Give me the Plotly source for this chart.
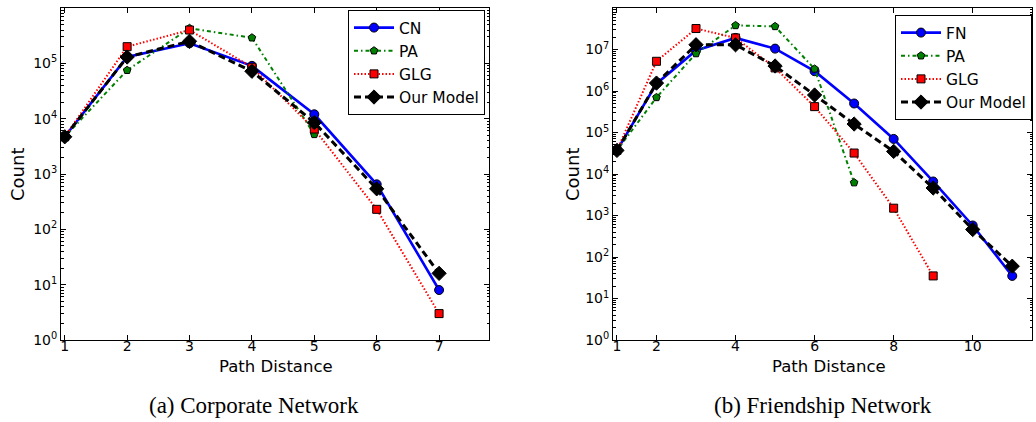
import plotly.graph_objects as go

# ---- data: (a) Corporate Network ----
corp_x = [1, 2, 3, 4, 5, 6, 7]
corp_cn = [4.7e3, 1.3e5, 2.3e5, 9.0e4, 1.2e4, 650, 8]
corp_pa_x = [1, 2, 3, 4, 5]
corp_pa = [4.7e3, 7.5e4, 4.3e5, 2.9e5, 5.2e3]
corp_glg = [4.7e3, 2.0e5, 4.0e5, 8.5e4, 6.5e3, 230, 3]
corp_model = [4.7e3, 1.3e5, 2.5e5, 7.2e4, 8.5e3, 540, 16]

# ---- data: (b) Friendship Network ----
fr_x = [1, 2, 3, 4, 5, 6, 7, 8, 9, 10, 11]
fr_fn = [3.7e4, 1.5e6, 9.5e6, 1.9e7, 1.05e7, 3.0e6, 5.0e5, 7.0e4, 6.6e3, 575, 35]
fr_pa_x = [1, 2, 3, 4, 5, 6, 7]
fr_pa = [3.7e4, 7.0e5, 8.0e6, 3.8e7, 3.6e7, 3.4e6, 6.2e3]
fr_glg_x = [1, 2, 3, 4, 5, 6, 7, 8, 9]
fr_glg = [3.7e4, 5.2e6, 3.2e7, 1.9e7, 3.6e6, 4.2e5, 3.2e4, 1.5e3, 35]
fr_model = [3.7e4, 1.55e6, 1.3e7, 1.3e7, 4.0e6, 8.0e5, 1.6e5, 3.5e4, 4.6e3, 460, 60]

corp_xticks = [1, 2, 3, 4, 5, 6, 7]
fr_xticks = [1, 2, 4, 6, 8, 10]
corp_ytick_exp = [0, 1, 2, 3, 4, 5]
fr_ytick_exp = [0, 1, 2, 3, 4, 5, 6, 7]

BLUE, GREEN, RED = "#0000ff", "#008000", "#ff0000"
FONT = "DejaVu Sans"

fig = go.Figure()


def add_series(x, y, name, color, dash, width, symbol, msize, xa, ya, legend):
    fig.add_trace(go.Scatter(
        x=x, y=y, name=name, mode="lines+markers",
        line=dict(color=color, dash=dash, width=width),
        marker=dict(symbol=symbol, size=msize, color=color,
                    line=dict(color="black", width=1)),
        xaxis=xa, yaxis=ya, legend=legend,
    ))


STY = {
    "blue": (BLUE, "solid", 2.6, "circle", 9),
    "green": (GREEN, "4px,3px,1.5px,3px", 2, "pentagon", 8),
    "red": (RED, "1.5px,2px", 2, "square", 8),
    "black": ("black", "7px,4px", 3, "diamond", 11),
}

add_series(corp_x, corp_cn, "CN", *STY["blue"], "x", "y", "legend")
add_series(corp_pa_x, corp_pa, "PA", *STY["green"], "x", "y", "legend")
add_series(corp_x, corp_glg, "GLG", *STY["red"], "x", "y", "legend")
add_series(corp_x, corp_model, "Our Model", *STY["black"], "x", "y", "legend")

add_series(fr_x, fr_fn, "FN", *STY["blue"], "x2", "y2", "legend2")
add_series(fr_pa_x, fr_pa, "PA", *STY["green"], "x2", "y2", "legend2")
add_series(fr_glg_x, fr_glg, "GLG", *STY["red"], "x2", "y2", "legend2")
add_series(fr_x, fr_model, "Our Model", *STY["black"], "x2", "y2", "legend2")

W, H = 1036, 422
ytop = 1 - 8 / H
ybot = 1 - 340 / H

axis_common = dict(
    showline=True, linecolor="black", linewidth=1, mirror="allticks",
    ticks="inside", tickcolor="black", ticklen=5, showgrid=False,
    zeroline=False, automargin=False,
    tickfont=dict(family=FONT, size=14, color="black"),
)

fig.update_layout(
    width=W, height=H,
    margin=dict(l=0, r=0, t=0, b=0),
    paper_bgcolor="white", plot_bgcolor="white",
    font=dict(family=FONT, color="black"),
    xaxis=dict(domain=[61 / W, 489 / W], range=[0.94, 7.8],
               tickvals=corp_xticks, anchor="y", ticklabelstandoff=-7,
               **axis_common),
    yaxis=dict(domain=[ybot, ytop], type="log", range=[0, 6],
               tickvals=[10 ** e for e in corp_ytick_exp],
               ticktext=[f"10<sup>{e}</sup>" for e in corp_ytick_exp],
               minor=dict(ticks="inside", ticklen=2.5, dtick="D1", tickcolor="black"),
               anchor="x", **axis_common),
    xaxis2=dict(domain=[613 / W, 1032 / W], range=[0.9, 11.5],
                tickvals=fr_xticks, anchor="y2", ticklabelstandoff=-7,
                **axis_common),
    yaxis2=dict(domain=[ybot, ytop], type="log", range=[0, 8],
                tickvals=[10 ** e for e in fr_ytick_exp],
                ticktext=[f"10<sup>{e}</sup>" for e in fr_ytick_exp],
                minor=dict(ticks="inside", ticklen=2.5, dtick="D1", tickcolor="black"),
                anchor="x2", **axis_common),
    legend=dict(x=348 / W, y=1 - 10 / H, xanchor="left", yanchor="top",
                bgcolor="white", bordercolor="black", borderwidth=1,
                font=dict(family=FONT, size=15.5, color="black"),
                itemwidth=40),
    legend2=dict(x=1032 / W, y=1 - 15 / H, xanchor="right", yanchor="top",
                 bgcolor="white", bordercolor="black", borderwidth=1,
                 font=dict(family=FONT, size=15.5, color="black"),
                 itemwidth=40),
)

ann = []
for xc, txt in [(276, "Path Distance"), (829, "Path Distance")]:
    ann.append(dict(x=xc / W, y=1 - 366 / H, xref="paper", yref="paper",
                    xanchor="center", yanchor="middle",
                    text=txt, showarrow=False,
                    font=dict(family=FONT, size=16.5, color="black")))
for xc in [17, 572]:
    ann.append(dict(x=xc / W, y=1 - 175 / H, xref="paper", yref="paper",
                    xanchor="center", yanchor="middle",
                    text="Count", showarrow=False, textangle=-90,
                    font=dict(family=FONT, size=18, color="black")))
for xc, txt in [(254, "(a) Corporate Network"), (823, "(b) Friendship Network")]:
    ann.append(dict(x=xc / W, y=1 - 405 / H, xref="paper", yref="paper",
                    xanchor="center", yanchor="middle",
                    text=txt, showarrow=False,
                    font=dict(family="Liberation Serif", size=23, color="black")))
fig.update_layout(annotations=ann)

fig.write_html("out.html", config={"displayModeBar": False},
               post_script="document.body.style.margin='0';document.body.style.padding='0';")
